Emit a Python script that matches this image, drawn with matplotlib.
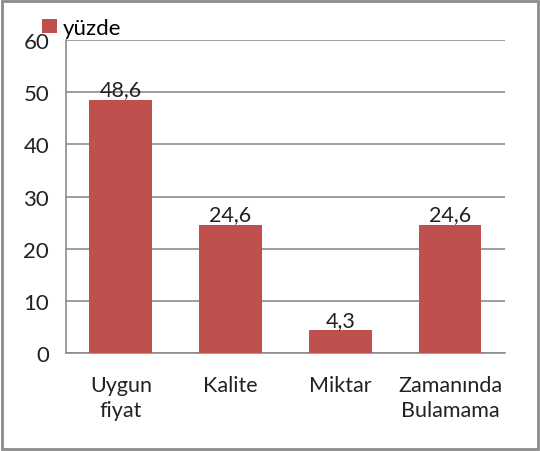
import matplotlib.pyplot as plt
from matplotlib.patches import Rectangle

categories = ['Uygun\nfiyat', 'Kalite', 'Miktar', 'Zamanında\nBulamama']
values = [48.6, 24.6, 4.3, 24.6]
value_labels = ['48,6', '24,6', '4,3', '24,6']
yticks = [0, 10, 20, 30, 40, 50, 60]

plt.rcParams['font.family'] = ['Lato', 'DejaVu Sans']

fig = plt.figure(figsize=(5.4, 4.52), dpi=100)
ax = fig.add_axes([0.122, 0.217, 0.813, 0.692])

bar_color = '#C0504D'
x = range(len(categories))
bars = ax.bar(x, values, width=0.57, color=bar_color, zorder=3, label='yüzde')

for b, lab in zip(bars, value_labels):
    ax.text(b.get_x() + b.get_width() / 2, b.get_height() + 0.1, lab,
            ha='center', va='bottom', fontsize=15.5, color='#222222', zorder=4)

ax.set_xlim(-0.5, len(categories) - 0.5)
ax.set_ylim(0, 60)
ax.set_yticks(yticks)
ax.set_xticks(list(x))
ax.set_xticklabels(categories, fontsize=15.5, color='#222222', linespacing=1.3)
ax.tick_params(axis='y', labelsize=16, labelcolor='#222222', length=0, pad=12)
ax.tick_params(axis='x', length=0, pad=16)

ax.yaxis.grid(True, color='#8c8c8c', linewidth=1.2, zorder=0)
for s in ['top', 'right']:
    ax.spines[s].set_visible(False)
ax.spines['left'].set_color('#8c8c8c')
ax.spines['bottom'].set_color('#8c8c8c')
ax.spines['left'].set_linewidth(1.2)
ax.spines['bottom'].set_linewidth(1.2)

fig.legend(loc='upper left', bbox_to_anchor=(0.062, 0.978), frameon=False,
           fontsize=16, handlelength=0.65, handleheight=0.65, handletextpad=0.25,
           borderaxespad=0)

fig.patches.append(Rectangle((0.004, 0.004), 0.992, 0.992, transform=fig.transFigure,
                             fill=False, edgecolor='#8c8c8c', linewidth=2))

fig.savefig('out.png', dpi=100)
